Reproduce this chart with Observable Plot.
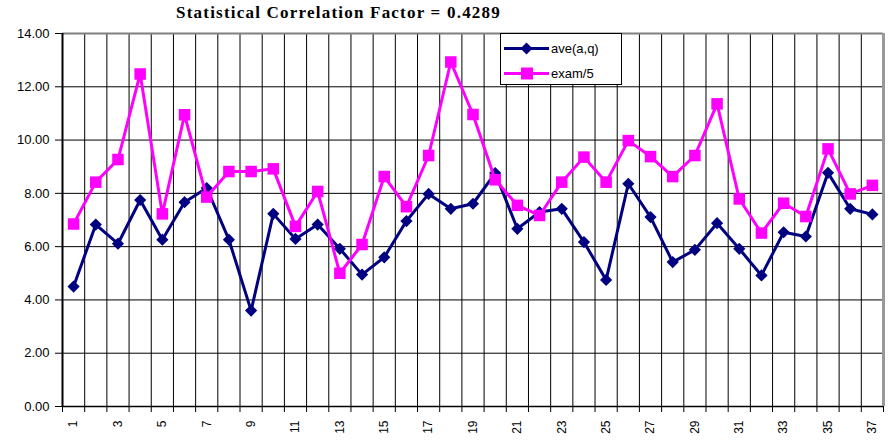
<!DOCTYPE html>
<html><head><meta charset="utf-8">
<script src="https://cdn.jsdelivr.net/npm/d3@7"></script>
<script src="https://cdn.jsdelivr.net/npm/@observablehq/plot@0.6"></script>
<style>
body{margin:0;background:#fff;}
#wrap{position:relative;width:894px;height:441px;}
#title{position:absolute;left:176px;top:3px;white-space:nowrap;line-height:17px;font:bold 17px "Liberation Serif","Times New Roman",serif;color:#000;}
#legend{position:absolute;left:500px;top:33px;width:120px;height:50px;border:1px solid #000;background:#fff;}
#legend svg{display:block;}
</style></head>
<body>
<div id="wrap">
<div id="chart"></div>
<div id="title">Statistical Correlation Factor = 0.4289</div>
<div id="legend"></div>
</div>
<script>
const categories = [1,2,3,4,5,6,7,8,9,10,11,12,13,14,15,16,17,18,19,20,21,22,23,24,25,26,27,28,29,30,31,32,33,34,35,36,37];
const ave = [4.50,6.83,6.11,7.75,6.26,7.67,8.20,6.26,3.60,7.23,6.29,6.83,5.92,4.95,5.60,6.96,7.98,7.42,7.61,8.76,6.67,7.30,7.42,6.17,4.75,8.36,7.11,5.42,5.88,6.88,5.92,4.92,6.54,6.38,8.77,7.42,7.21];
const exam5 = [6.85,8.42,9.27,12.48,7.23,10.95,7.86,8.82,8.82,8.92,6.76,8.07,5.00,6.08,8.63,7.50,9.42,12.93,10.96,8.51,7.55,7.17,8.42,9.36,8.42,9.98,9.38,8.63,9.42,11.36,7.79,6.51,7.63,7.13,9.67,7.98,8.30];
const yTicks = [0,2,4,6,8,10,12,14];
const xLabels = [1,3,5,7,9,11,13,15,17,19,21,23,25,27,29,31,33,35,37];
const seriesNames = ["ave(a,q)","exam/5"];
const seriesColors = ["#000080","#ff00ff"];

const boundaries = categories.map(c => c - 0.5).concat([categories[categories.length-1] + 0.5]);
const aveData = categories.map((c,i) => ({c, v: ave[i]}));
const examData = categories.map((c,i) => ({c, v: exam5[i]}));

const plot = Plot.plot({
  width: 894, height: 441,
  marginLeft: 62, marginRight: 11, marginTop: 33, marginBottom: 35,
  x: {domain: [boundaries[0], boundaries[boundaries.length-1]]},
  y: {domain: [0, 14]},
  style: {fontFamily: "'Liberation Sans', Arial, sans-serif", fontSize: "13px", color: "#000", background: "#fff", overflow: "visible"},
  marks: [
    Plot.gridX({ticks: boundaries, stroke: "#000", strokeOpacity: 1, strokeWidth: 1}),
    Plot.gridY({ticks: yTicks, stroke: "#000", strokeOpacity: 1, strokeWidth: 1}),
    Plot.ruleY([14], {stroke: "#808080", strokeWidth: 2}),
    Plot.axisY({ticks: yTicks, tickFormat: d3.format(".2f"), tickSize: 7, tickPadding: 6, label: null, fontSize: 13}),
    Plot.axisX({ticks: boundaries, tickSize: 6, tickFormat: () => "", label: null}),
    Plot.axisX({ticks: xLabels, tickSize: 0, tickRotate: -90, tickPadding: 14, label: null, fontSize: 12}),
    Plot.ruleX([boundaries[0]], {stroke: "#000", strokeWidth: 2}),
    Plot.ruleY([0], {stroke: "#000", strokeWidth: 1.5}),
    Plot.ruleX([boundaries[boundaries.length-1]], {stroke: "#999", strokeWidth: 3}),
    Plot.line(aveData, {x: "c", y: "v", stroke: seriesColors[0], strokeWidth: 3}),
    Plot.dot(aveData, {x: "c", y: "v", symbol: "diamond2", r: 5.5, fill: seriesColors[0], stroke: "none"}),
    Plot.line(examData, {x: "c", y: "v", stroke: seriesColors[1], strokeWidth: 3}),
    Plot.dot(examData, {x: "c", y: "v", symbol: "square", r: 6.5, fill: seriesColors[1], stroke: "none"})
  ]
});
document.getElementById("chart").appendChild(plot);

// stretch title letter spacing to the reference width
const t = document.getElementById("title");
const natural = t.getBoundingClientRect().width;
const targetW = 325;
const n = t.textContent.length;
t.style.letterSpacing = ((targetW - natural) / n) + "px";

// legend
const lg = d3.select("#legend").append("svg").attr("width", 120).attr("height", 50);
const rowsY = [14.5, 39.5];
seriesNames.forEach((name, i) => {
  const g = lg.append("g").attr("transform", `translate(0,${rowsY[i]})`);
  g.append("line").attr("x1", 3).attr("x2", 48).attr("y1", 0).attr("y2", 0)
    .attr("stroke", seriesColors[i]).attr("stroke-width", 3);
  if (i === 0) {
    g.append("path").attr("d", "M25.5,-6L31.5,0L25.5,6L19.5,0Z").attr("fill", seriesColors[i]);
  } else {
    g.append("rect").attr("x", 20).attr("y", -6).attr("width", 12).attr("height", 12).attr("fill", seriesColors[i]);
  }
  g.append("text").attr("x", 50).attr("y", 0).attr("dy", "0.35em")
    .attr("font-family", "'Liberation Sans', Arial, sans-serif").attr("font-size", 13)
    .text(name);
});
</script>
</body></html>
